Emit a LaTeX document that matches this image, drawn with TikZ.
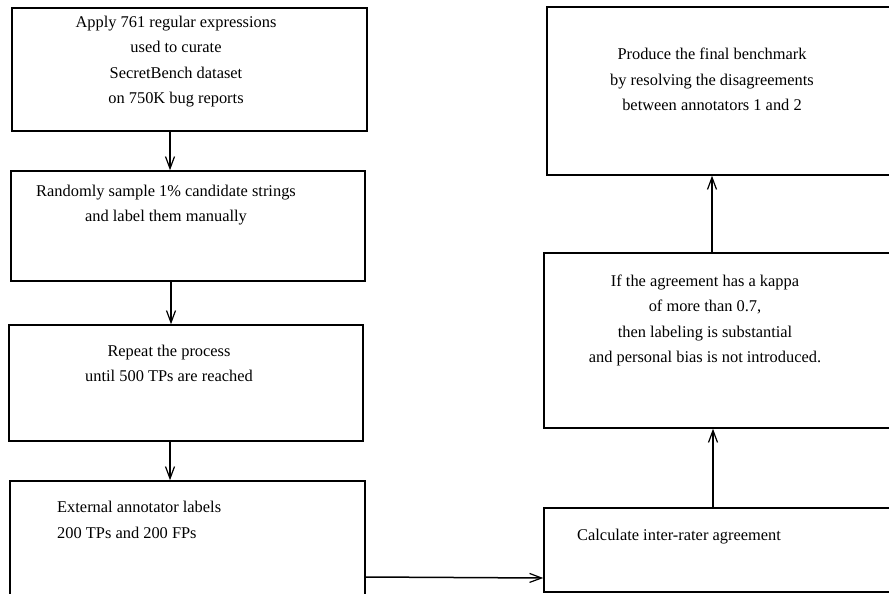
\documentclass[tikz,border=0pt]{standalone}
\usepackage{fontspec}
\setmainfont{Liberation Serif}
\usetikzlibrary{arrows.meta}
\begin{document}
\begin{tikzpicture}[x=1pt,y=-1pt,
  box/.style={draw, line width=1.5pt, rectangle, inner sep=0pt},
  txt/.style={font=\fontsize{16.4}{25.5}\selectfont, align=center, inner sep=0pt},
  txtl/.style={font=\fontsize{16.4}{25.5}\selectfont, align=left, inner sep=0pt},
  arr/.style={line width=1.5pt, -{Straight Barb[length=12pt,width=9pt,line width=1.2pt]}}]
\clip (0,0) rectangle (889,594);
% boxes
\node[box, minimum width=355pt, minimum height=123pt] (b1) at (189.5,69.5) {};
\node[box, minimum width=354pt, minimum height=110pt] (b2) at (188,226) {};
\node[box, minimum width=354pt, minimum height=116pt] (b3) at (186,383) {};
\node[box, minimum width=355pt, minimum height=129pt] (b4) at (187.5,545.5) {};
\node[box, minimum width=361pt, minimum height=84pt] (b5) at (724.5,550) {};
\node[box, minimum width=361pt, minimum height=175pt] (b6) at (724.5,340.5) {};
\node[box, minimum width=358pt, minimum height=168pt] (b7) at (726,91) {};
% texts
\node[txt] (t1) at (176,61.5) {Apply 761 regular expressions\\used to curate\\SecretBench dataset\\on 750K bug reports};
\node[txt] (t2) at (166,205) {Randomly sample 1\% candidate strings\\and label them manually};
\node[txt] (t3) at (169,363.5) {Repeat the process\\until 500 TPs are reached};
\node[txtl, anchor=west] (t4) at (57,520) {External annotator labels\\200 TPs and 200 FPs};
\node[txtl, anchor=west] (t5) at (577,537) {Calculate inter-rater agreement};
\node[txt] (t6) at (705,320.5) {If the agreement has a kappa\\of more than 0.7,\\then labeling is substantial\\and personal bias is not introduced.};
\node[txt] (t7) at (712,79.5) {Produce the final benchmark\\by resolving the disagreements\\between annotators 1 and 2};
% arrows
\draw[arr] ([xshift=-19.5pt]b1.south) -- ([xshift=-18pt]b2.north);
\draw[arr] ([xshift=-17pt]b2.south) -- ([xshift=-15pt]b3.north);
\draw[arr] ([xshift=-16pt]b3.south) -- ([xshift=-17.5pt]b4.north);
\draw[arr] ([yshift=-31.5pt]b4.east) -- ([yshift=-28pt]b5.west);
\draw[arr] ([xshift=-11.5pt]b5.north) -- ([xshift=-11.5pt]b6.south);
\draw[arr] ([xshift=-12.5pt]b6.north) -- ([xshift=-14pt]b7.south);
\end{tikzpicture}
\end{document}
